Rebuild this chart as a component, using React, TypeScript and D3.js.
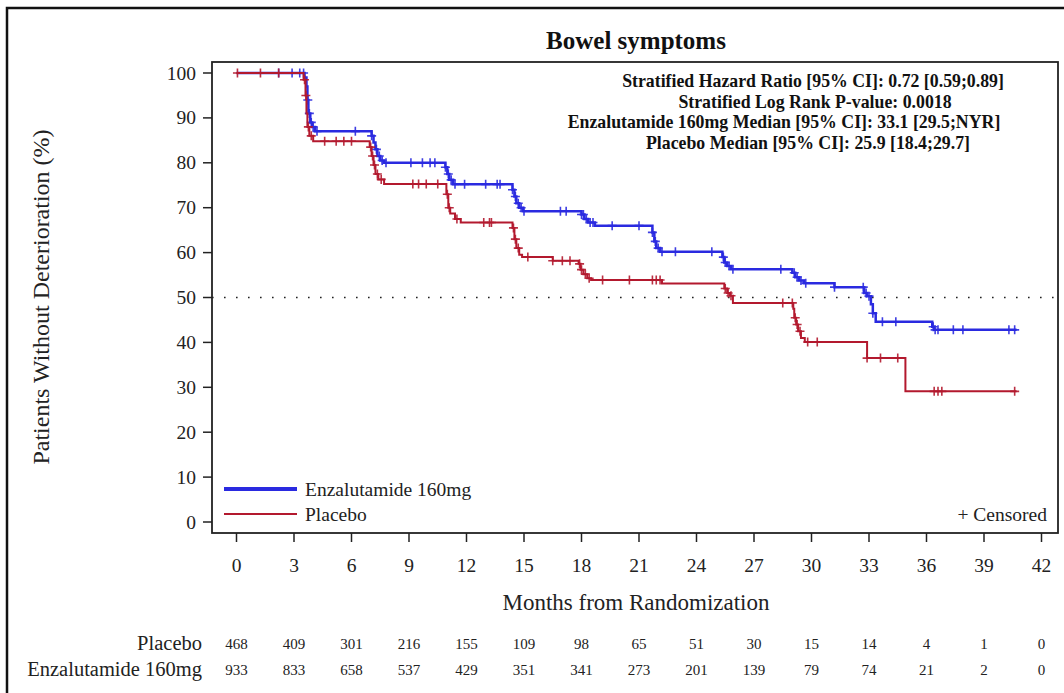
import React from "react";
import * as d3 from "d3";

// Kaplan-Meier step estimates: [month, % without deterioration]
const enzaSteps: [number, number][] = [
  [0, 100], [3.55, 99], [3.65, 97], [3.7, 94], [3.75, 91], [3.85, 89], [3.95, 88], [4.1, 87],
  [7.05, 86], [7.15, 84.5], [7.25, 83], [7.35, 81.5], [7.5, 80.5], [7.7, 80],
  [10.9, 79], [11.0, 77.5], [11.1, 76.2], [11.3, 75.2],
  [14.4, 74], [14.5, 72.5], [14.6, 71], [14.75, 70], [14.95, 69.2],
  [18.0, 68.5], [18.15, 67.5], [18.35, 66.7], [18.7, 66],
  [21.7, 64.5], [21.8, 62.5], [21.9, 61], [22.1, 60.2],
  [25.35, 59], [25.45, 57.8], [25.6, 57], [25.8, 56.3],
  [29.0, 55.5], [29.15, 54.5], [29.35, 53.8], [29.6, 53.2], [31.2, 52.3],
  [32.75, 51], [32.9, 50.3], [33.1, 48.5], [33.2, 46.5], [33.35, 44.6],
  [36.3, 43.5], [36.4, 42.8],
];
const enzaEnd = 40.7;

const placeboSteps: [number, number][] = [
  [0, 100], [3.5, 98.5], [3.6, 95], [3.65, 91], [3.7, 88], [3.8, 86], [4.0, 84.8],
  [6.95, 83.5], [7.05, 81.5], [7.15, 79.5], [7.25, 77.5], [7.4, 76.3], [7.7, 75.3],
  [10.95, 73], [11.05, 70], [11.15, 68.7], [11.4, 67.5], [11.7, 66.7],
  [14.4, 65.5], [14.5, 63], [14.6, 61], [14.75, 59.5], [14.9, 59], [16.5, 58.2],
  [17.85, 57.5], [17.95, 56.2], [18.1, 55.2], [18.3, 54.3], [18.5, 53.9],
  [22.2, 53.1], [25.45, 52], [25.6, 51], [25.75, 50.4], [25.9, 48.8],
  [29.05, 47.5], [29.1, 45.5], [29.2, 44], [29.3, 42.5], [29.45, 41], [29.65, 40.1],
  [32.9, 36.5], [34.9, 29.1],
];
const placeboEnd = 40.7;

// Censoring times (months)
const enzaCensored = [
  2.2, 2.9, 3.3, 3.5, 3.72, 3.8, 3.9, 4.0, 4.2, 6.2, 7.05, 7.3, 7.45, 7.6, 7.8, 9.1, 9.7, 10.1,
  10.35, 10.9, 11.05, 11.2, 11.4, 11.9, 13.0, 13.6, 13.75, 14.4, 14.55, 14.7, 14.85, 15.0, 16.9,
  17.2, 18.0, 18.1, 18.25, 18.45, 18.6, 19.6, 21.0, 21.7, 21.85, 22.0, 22.2, 22.9, 24.8, 25.4,
  25.5, 25.7, 25.9, 28.4, 29.1, 29.25, 29.45, 29.7, 31.2, 32.7, 32.85, 33.0, 33.2, 33.7, 34.4,
  36.35, 36.45, 36.6, 37.4, 37.9, 40.3, 40.6,
];
const placeboCensored = [
  0.05, 1.25, 2.2, 3.55, 3.62, 3.75, 3.9, 4.6, 5.2, 5.6, 6.0, 7.0, 7.1, 7.2, 7.35, 7.55, 9.2,
  9.5, 9.9, 10.5, 11.0, 11.1, 11.5, 12.9, 13.2, 13.3, 14.45, 14.55, 14.7, 15.2, 16.5, 17.0,
  17.4, 17.9, 18.0, 18.2, 18.4, 19.1, 20.5, 21.7, 21.9, 22.1, 25.5, 25.65, 25.8, 28.5, 29.0,
  29.15, 29.25, 29.4, 29.8, 30.3, 32.9, 33.6, 34.5, 36.4, 36.6, 36.8, 40.6,
];

const xTicks = [0, 3, 6, 9, 12, 15, 18, 21, 24, 27, 30, 33, 36, 39, 42];
const yTicks = [0, 10, 20, 30, 40, 50, 60, 70, 80, 90, 100];
const placeboAtRisk = [468, 409, 301, 216, 155, 109, 98, 65, 51, 30, 15, 14, 4, 1, 0];
const enzaAtRisk = [933, 833, 658, 537, 429, 351, 341, 273, 201, 139, 79, 74, 21, 2, 0];

const statLines = [
  "Stratified Hazard Ratio [95% CI]: 0.72 [0.59;0.89]",
  "Stratified Log Rank P-value: 0.0018",
  "Enzalutamide 160mg Median [95% CI]: 33.1 [29.5;NYR]",
  "Placebo Median [95% CI]: 25.9 [18.4;29.7]",
];
const statCenters = [813, 815, 784, 808];

const BLUE = "#2a2ae0";
const RED = "#b3192e";
const FONT = "'Liberation Serif', 'Times New Roman', serif";

const frame = { left: 212, right: 1058, top: 62, bottom: 533 };
const x = d3.scaleLinear().domain([0, 42]).range([236.5, 1041.5]);
const y = d3.scaleLinear().domain([0, 100]).range([522, 73]);

function stepValue(steps: [number, number][], t: number) {
  let v = steps[0][1];
  for (const [st, sv] of steps) {
    if (st <= t) v = sv;
  }
  return v;
}

function stepPath(steps: [number, number][], end: number) {
  const pts: [number, number][] = [...steps, [end, steps[steps.length - 1][1]]];
  return (
    d3
      .line<[number, number]>()
      .x((d) => x(d[0]))
      .y((d) => y(d[1]))
      .curve(d3.curveStepAfter)(pts) || ""
  );
}

function Censors({ steps, times, color }: { steps: [number, number][]; times: number[]; color: string }) {
  const h = 4.5;
  return (
    <g stroke={color} strokeWidth={1.6} opacity={0.9}>
      {times.map((t, i) => {
        const cx = x(t);
        const cy = y(stepValue(steps, t));
        return (
          <path key={i} d={`M${cx - h},${cy}H${cx + h}M${cx},${cy - h}V${cy + h}`} />
        );
      })}
    </g>
  );
}

export default function App() {
  return (
    <svg
      width={1064}
      height={693}
      style={{ position: "absolute", left: 0, top: 0, background: "#fff" }}
      fontFamily={FONT}
    >
      <rect x={0} y={0} width={1064} height={693} fill="#fff" />
      {/* outer border */}
      <rect x={7} y={8} width={1070} height={700} fill="none" stroke="#111" strokeWidth={2.5} />

      {/* title */}
      <text x={636} y={49} textAnchor="middle" fontSize={25} fontWeight="bold" fill="#111">
        Bowel symptoms
      </text>

      {/* reference line at 50% */}
      <line
        x1={frame.left}
        x2={frame.right}
        y1={y(50)}
        y2={y(50)}
        stroke="#222"
        strokeWidth={1.6}
        strokeDasharray="1.6 10.4"
      />

      {/* curves */}
      <path d={stepPath(enzaSteps, enzaEnd)} fill="none" stroke={BLUE} strokeWidth={2.5} />
      <Censors steps={enzaSteps} times={enzaCensored} color={BLUE} />
      <path d={stepPath(placeboSteps, placeboEnd)} fill="none" stroke={RED} strokeWidth={2} />
      <Censors steps={placeboSteps} times={placeboCensored} color={RED} />

      {/* plot frame */}
      <rect
        x={frame.left}
        y={frame.top}
        width={frame.right - frame.left}
        height={frame.bottom - frame.top}
        fill="none"
        stroke="#222"
        strokeWidth={1.8}
      />

      {/* y axis */}
      {yTicks.map((v) => (
        <g key={v}>
          <line x1={203} x2={frame.left} y1={y(v)} y2={y(v)} stroke="#222" strokeWidth={1.5} />
          <text x={196} y={y(v) + 6.5} textAnchor="end" fontSize={19.5} fill="#222">
            {v}
          </text>
        </g>
      ))}
      <text
        transform={`translate(49,${297}) rotate(-90)`}
        textAnchor="middle"
        fontSize={24}
        fill="#222"
      >
        Patients Without Deterioration (%)
      </text>

      {/* x axis */}
      {xTicks.map((v) => (
        <g key={v}>
          <line x1={x(v)} x2={x(v)} y1={frame.bottom} y2={542} stroke="#222" strokeWidth={1.5} />
          <text x={x(v)} y={572} textAnchor="middle" fontSize={19.5} fill="#222">
            {v}
          </text>
        </g>
      ))}
      <text x={636} y={610} textAnchor="middle" fontSize={23} fill="#222">
        Months from Randomization
      </text>

      {/* stats annotation */}
      {statLines.map((s, i) => (
        <text
          key={i}
          x={statCenters[i]}
          y={87 + i * 20.5}
          textAnchor="middle"
          fontSize={17.8}
          fontWeight="bold"
          fill="#111"
        >
          {s}
        </text>
      ))}

      {/* legend */}
      <line x1={224} x2={297} y1={489} y2={489} stroke={BLUE} strokeWidth={4} />
      <text x={305} y={496} fontSize={19.5} fill="#222">
        Enzalutamide 160mg
      </text>
      <line x1={224} x2={297} y1={514} y2={514} stroke={RED} strokeWidth={2} />
      <text x={305} y={521} fontSize={19.5} fill="#222">
        Placebo
      </text>
      <text x={1047} y={521} textAnchor="end" fontSize={19.5} fill="#222">
        + Censored
      </text>

      {/* numbers at risk */}
      <text x={202} y={650} textAnchor="end" fontSize={20.5} fill="#222">
        Placebo
      </text>
      <text x={202} y={676} textAnchor="end" fontSize={20.5} fill="#222">
        Enzalutamide 160mg
      </text>
      {xTicks.map((v, i) => (
        <g key={v}>
          <text x={x(v)} y={649} textAnchor="middle" fontSize={15} fill="#222">
            {placeboAtRisk[i]}
          </text>
          <text x={x(v)} y={675} textAnchor="middle" fontSize={15} fill="#222">
            {enzaAtRisk[i]}
          </text>
        </g>
      ))}
    </svg>
  );
}
